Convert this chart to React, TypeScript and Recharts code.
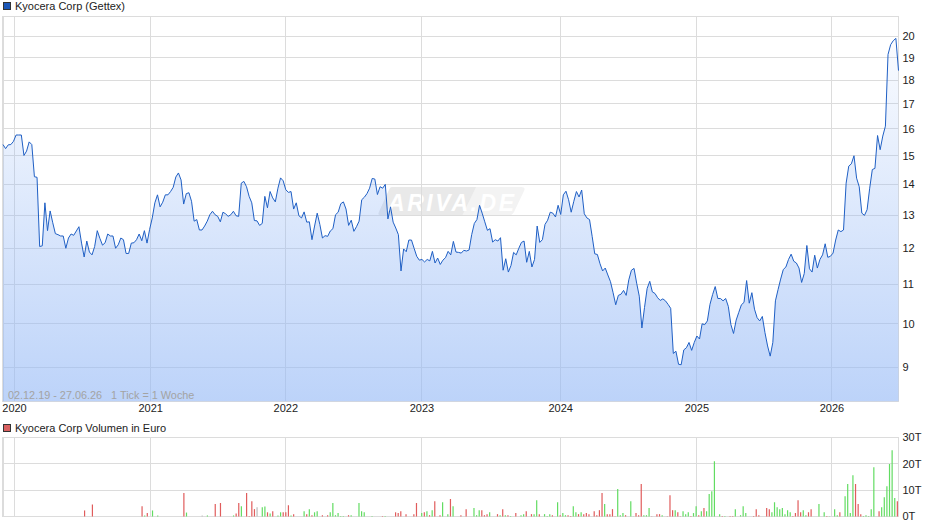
import React from "react";
import { ComposedChart, Area, Bar, Cell, XAxis, YAxis, CartesianGrid } from "recharts";

const prices = [
  15.41,15.26,15.40,15.41,15.53,15.77,15.77,15.77,15.01,15.17,15.51,15.41,14.26,14.24,12.05,12.07,13.39,12.52,13.13,12.76,
  12.43,12.40,12.36,12.36,12.00,12.30,12.42,12.38,12.51,12.64,12.15,11.75,12.21,11.89,11.81,12.05,12.52,12.29,12.09,12.16,
  12.42,12.36,12.36,12.00,12.10,12.30,12.25,11.85,11.85,12.15,12.16,12.25,12.42,12.22,12.52,12.15,12.56,12.91,13.39,13.65,
  13.26,13.41,13.65,13.65,13.76,13.90,14.25,14.39,14.15,13.35,13.69,13.72,13.44,12.81,12.86,12.54,12.54,12.66,12.81,13.01,
  13.12,13.01,12.96,12.79,13.09,13.04,12.96,13.01,13.12,12.98,12.96,14.04,14.10,13.92,13.60,13.39,12.83,12.82,12.68,12.74,
  13.60,13.23,13.76,13.55,13.42,13.87,14.22,14.12,13.82,13.73,13.76,13.19,13.39,12.98,12.91,13.10,12.78,12.79,12.25,12.66,
  13.06,12.71,
  12.30,12.37,12.35,12.51,12.58,13.01,13.09,13.36,13.42,13.19,12.68,12.84,12.50,12.64,12.81,13.49,13.57,13.69,13.87,14.20,
  14.18,13.66,13.92,13.87,14.00,12.88,13.26,12.78,12.60,12.40,11.36,11.98,11.90,12.24,12.24,12.00,11.77,11.66,11.68,11.61,
  11.68,11.64,11.91,11.58,11.72,11.54,11.66,11.73,11.91,11.81,12.20,11.89,11.88,11.86,11.94,11.92,11.95,12.40,12.74,12.86,
  13.31,13.06,12.79,12.53,12.58,12.18,12.25,12.21,12.31,11.38,11.70,11.33,11.51,11.88,11.81,12.00,12.17,12.21,11.60,11.91,
  11.47,11.68,12.66,12.17,12.25,12.71,12.84,13.09,13.06,12.94,13.31,13.02,13.65,13.77,13.49,13.09,13.44,13.76,13.58,13.81,
  13.04,12.91,12.86,12.35,11.84,11.82,11.56,11.36,11.44,11.25,11.07,10.78,10.47,10.71,10.74,
  10.84,10.71,11.12,11.38,11.43,11.03,10.69,9.90,10.40,10.89,11.08,10.80,10.76,10.65,10.58,10.62,10.57,10.48,10.38,9.31,
  9.36,9.07,9.06,9.39,9.44,9.56,9.38,9.56,9.71,9.64,10.00,9.98,10.07,10.48,10.73,10.94,10.63,10.63,10.57,10.63,
  10.43,9.98,9.77,10.09,10.28,10.47,10.53,11.10,10.51,10.78,10.36,10.15,10.07,10.18,9.79,9.48,9.25,9.56,10.57,10.86,
  11.14,11.40,11.47,11.68,11.83,11.63,11.58,11.44,11.05,11.29,12.08,11.42,11.33,11.80,11.44,11.68,11.81,12.13,11.74,11.77,
  11.86,12.24,12.54,12.49,12.54,14.04,14.63,14.71,15.00,14.21,13.92,13.06,12.99,13.17,13.87,14.51,14.55,15.75,15.22,15.73,
  16.11,19.15,19.61,19.80,19.91,18.42,
];

const volumeWeeks = [
  31,34,53,54,55,57,59,69,70,76,
  78,81,83,88,89,90,91,93,94,95,
  96,97,99,100,101,102,103,105,106,107,
  108,109,110,111,115,116,117,118,119,120,
  122,124,125,126,127,128,129,130,132,133,
  136,137,138,141,145,146,150,151,152,154,
  157,158,160,161,162,163,164,165,167,168,
  170,171,172,175,177,180,181,182,183,184,
  185,186,189,190,191,192,193,194,196,198,
  199,200,202,203,204,205,207,208,209,210,
  212,213,214,215,216,217,218,219,220,221,
  222,223,224,226,227,228,229,230,231,232,
  233,234,235,236,237,238,240,241,242,243,
  244,245,246,247,248,250,251,252,254,255,
  256,257,258,259,260,261,262,263,264,265,
  266,267,268,269,270,271,272,274,275,276,
  278,279,280,282,283,284,287,288,289,292,
  293,294,295,296,297,298,299,300,301,302,
  303,304,305,306,307,308,309,312,314,315,
  316,318,319,320,322,323,324,325,326,327,
  328,329,330,331,332,333,335,336,337,338,
  339,340,341,342,
];
const volumeValues = [
  2.3,4.6,3.9,.4,1.3,2.3,.4,8.9,1.5,.4,
  .4,4.7,5.1,.4,1.1,5.1,3.9,8.9,.2,5.8,
  2.8,3.5,3.5,3.8,1.6,1.1,2.0,.4,1.6,1.6,
  1.6,4.3,.4,.9,2.0,.9,2.8,.5,1.6,2.0,
  .5,.5,1.6,5.1,.5,1.3,.2,.2,.5,.5,
  5.1,2.0,1.6,.2,.2,.2,1.6,1.3,2.0,.9,
  .9,5.1,1.3,1.6,2.0,.5,2.4,5.8,.5,5.4,
  .9,6.6,3.9,.5,2.8,3.2,.5,2.4,2.4,.5,
  .9,1.6,.9,.5,2.8,.5,.5,.2,1.3,.5,
  .9,2.0,.9,.9,6.2,.9,.9,.2,.9,.5,
  5.4,.5,1.3,.5,.5,.2,3.9,1.6,.9,1.6,
  .9,1.3,.9,2.0,.5,2.4,8.9,4.7,.9,.9,
  2.8,.1,10.4,.5,1.3,.5,5.8,.1,1.3,.5,
  12.3,.5,.5,3.2,.1,.9,.9,.5,.1,8.1,
  2.4,2.4,1.6,.1,2.0,.9,1.6,.2,1.3,3.9,
  .5,2.0,3.2,2.0,8.5,9.6,21.0,.9,.2,.2,
  .2,.2,2.8,.5,3.9,1.3,.2,2.8,.5,3.2,
  2.8,1.6,5.4,3.5,2.8,3.2,.9,2.4,1.6,.2,
  1.3,6.2,1.6,2.4,.5,1.6,2.8,4.7,1.6,.2,
  .1,2.8,.5,1.6,7.7,12.3,1.3,15.7,12.3,4.7,
  .9,.2,.5,.2,2.8,18.7,2.0,3.5,7.3,11.5,
  19.9,25.2,7.0,5.8,
];
const volumeDirections = (
  "rrrgrggrgn" + "grrgrrgrrr" + "rnggrgrggr" + "rrgrgrgrgg" + "rrggggggrg" +
  "ggggrgrrrr" + "rrgrgrgrrg" + "grgrrgggrr" + "rgrgrgrgrg" + "grrggrgggr" +
  "grggrrggrg" + "rrrrrrrgrr" + "rrgggrgnrr" + "rgggrrrgrr" + "rgrrgggrgg" +
  "rgrgggggrg" + "rrggggrrrr" + "rggggggggr" + "rrrggrrggr" +
  "gggrggggrr" + "rgggggrggg" + "gggr"
).split("");

const yearTicks = [4.4, 56.4, 108, 160, 213, 265, 316.6];
const volumeYearTicks = [4.3, 56.4, 108, 160.1, 213.3, 265.4, 317.1];
const yearLabels = ["2020", "2021", "2022", "2023", "2024", "2025", "2026"];
const priceTicks = [9, 10, 11, 12, 13, 14, 15, 16, 17, 18, 19, 20];
const volumeTicks = [0, 10, 20, 30];
const volumeWeekRange = [-0.1, 342.55];

const priceRows = prices.map((price, week) => ({ week, price }));
const volumeRows = volumeWeeks.map((week, i) => ({ week, volume: volumeValues[i] }));

const dirColor: Record<string, string> = { r: "#e05c5c", g: "#62dc62", n: "#bbbbbb" };
const GRID = "#dcdcdc";
const FONT = '"Liberation Sans", Arial, sans-serif';
const tickStyle = { fontSize: 11, fill: "#222", fontFamily: FONT };
const yearLabel = (v: number) => yearLabels[yearTicks.indexOf(v)] ?? "";

const label = (left: number, top: number, color: string, text: string, size = 11) => (
  <div style={{ position: "absolute", left, top, fontFamily: FONT, fontSize: size, lineHeight: "13px", color, whiteSpace: "pre" }}>{text}</div>
);
const swatch = (top: number, fill: string) => (
  <div style={{ position: "absolute", left: 3, top, width: 6, height: 6, background: fill, border: "1px solid #333" }} />
);

export default function App() {
  return (
    <div style={{ position: "absolute", left: 0, top: 0, width: 940, height: 526, background: "#fff", overflow: "hidden" }}>
      <svg width={940} height={526} style={{ position: "absolute", left: 0, top: 0 }}>
        <path d="M392 187 H521 Q526 187 524 191 L514 212 Q512 216 507 216 H383 Q377 216 379 212 L389 190 Q390 187 392 187 Z" fill="#f3f3f3" />
        <path d="M392 187 H476 L462 216 H383 Q377 216 379 212 L389 190 Q390 187 392 187 Z" fill="#e9e9e9" />
        <text x={388} y={211} fontFamily={FONT} fontSize={23} fontWeight="bold" fontStyle="italic" fill="#fff" textLength={126}>ARIVA.DE</text>
        <rect x={2.5} y={16.5} width={896} height={385} fill="none" stroke={GRID} />
        <rect x={2.5} y={437.5} width={896} height={79} fill="none" stroke={GRID} />
      </svg>

      <div style={{ position: "absolute", left: 0, top: 0 }}>
        <ComposedChart width={940} height={425.5} data={priceRows} margin={{ top: 16.5, right: 0, bottom: 0, left: 3 }}>
          <defs>
            <linearGradient id="priceFill" x1="0" y1="0" x2="0" y2="1">
              <stop offset="0" stopColor="#95b9f6" stopOpacity={0.05} />
              <stop offset="1" stopColor="#95b9f6" stopOpacity={0.63} />
            </linearGradient>
          </defs>
          <CartesianGrid stroke={GRID} strokeWidth={1} shapeRendering="crispEdges" />
          <XAxis dataKey="week" type="number" domain={[0, prices.length - 1]} ticks={yearTicks} tickFormatter={yearLabel}
            interval={0} height={24} axisLine={false} tickLine={false} tickSize={0} tickMargin={3} tick={tickStyle} />
          <YAxis orientation="right" type="number" scale="log" domain={[8.291, 20.989]} ticks={priceTicks} allowDataOverflow
            interval={0} width={41.5} axisLine={false} tickLine={false} tickSize={0} tickMargin={4} tick={{ ...tickStyle, textAnchor: "start" }} />
          <Area dataKey="price" type="linear" stroke="#1f5fc4" strokeWidth={1} fill="url(#priceFill)" fillOpacity={1} isAnimationActive={false} dot={false} activeDot={false} />
        </ComposedChart>
      </div>

      <div style={{ position: "absolute", left: 0, top: 0 }}>
        <ComposedChart width={940} height={526} data={volumeRows} margin={{ top: 437.5, right: 0, bottom: 9.5, left: 3 }}>
          <CartesianGrid stroke={GRID} strokeWidth={1} shapeRendering="crispEdges" />
          <XAxis dataKey="week" type="number" domain={volumeWeekRange} allowDataOverflow ticks={volumeYearTicks} hide />
          <YAxis orientation="right" type="number" domain={[0, 30]} ticks={volumeTicks} tickFormatter={(v: number) => `${v}T`}
            interval={0} width={41.5} axisLine={false} tickLine={false} tickSize={0} tickMargin={4} tick={{ ...tickStyle, textAnchor: "start" }} />
          <Bar dataKey="volume" barSize={1.2} isAnimationActive={false}>
            {volumeRows.map((_, i) => <Cell key={i} fill={dirColor[volumeDirections[i]] ?? "#e05c5c"} />)}
          </Bar>
        </ComposedChart>
      </div>

      {swatch(2, "#1b57b8")}
      {label(15, 0, "#222", "Kyocera Corp (Gettex)")}
      {swatch(424, "#d96060")}
      {label(15, 422, "#222", "Kyocera Corp Volumen in Euro")}
      {label(8, 389, "#a3a3a3", "02.12.19 - 27.06.26   1 Tick = 1 Woche", 10.85)}
    </div>
  );
}
